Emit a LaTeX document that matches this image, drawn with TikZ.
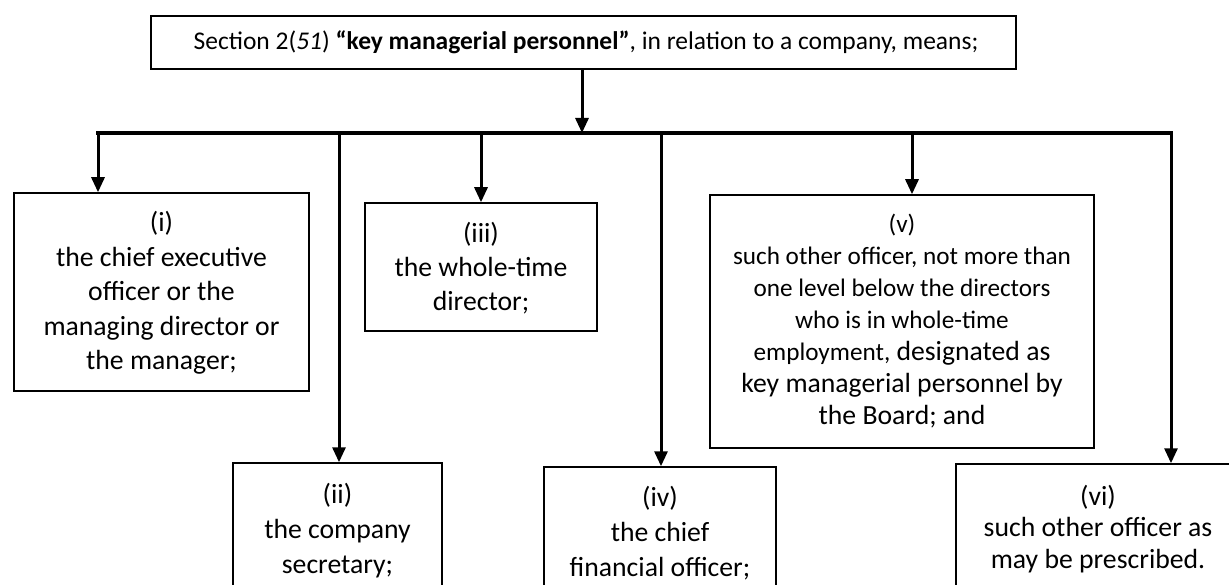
\documentclass[tikz,border=0pt]{standalone}
\usepackage{fontspec}
\setmainfont{Carlito}
\usetikzlibrary{arrows.meta}
\begin{document}
\begin{tikzpicture}[x=1pt,y=-1pt,
  box/.style={draw, line width=1.5pt, inner sep=0pt},
  txt/.style={align=center, font=\fontsize{27.7}{34.5}\selectfont, inner sep=0pt},
  con/.style={line width=3.5pt, line cap=rect},
  arr/.style={line width=3pt, -{Triangle[width=13pt,length=15pt]}}]
\useasboundingbox (0,0) rectangle (1229,585);
\clip (0,0) rectangle (1229,585);
\fill[white] (0,0) rectangle (1229,585);
% boxes
\node[box, minimum width=865pt, minimum height=53pt] (top) at (583.5,42.5) {};
\node[box, minimum width=295pt, minimum height=198pt] (b1) at (161.5,292) {};
\node[box, minimum width=209pt, minimum height=160pt] (b2) at (337.5,543) {};
\node[box, minimum width=232pt, minimum height=128pt] (b3) at (481,267) {};
\node[box, minimum width=232pt, minimum height=156pt] (b4) at (660,545) {};
\node[box, minimum width=384pt, minimum height=253pt] (b5) at (902,321.5) {};
\node[box, minimum width=284pt, minimum height=158pt] (b6) at (1098,543) {};
% texts
\node[txt, font=\fontsize{25.5}{28}\selectfont] (ttop) at (586,42) {Section 2(\textit{51}) \textbf{“key managerial personnel”}, in relation to a company, means;};
\node[txt] (t1) at (161.5,293) {(i)\\the chief executive\\officer or the\\managing director or\\the manager;};
\node[txt, font=\fontsize{27.7}{35}\selectfont] (t2) at (337.5,531) {(ii)\\the company\\secretary;};
\node[txt, font=\fontsize{27.7}{34}\selectfont] (t3) at (481,268) {(iii)\\the whole-time\\director;};
\node[txt, font=\fontsize{27.7}{35}\selectfont] (t4) at (660,533) {(iv)\\the chief\\financial officer;};
\node[txt, font=\fontsize{27.7}{32}\selectfont] (t5) at (902,321) {{\fontsize{25.2}{30}\selectfont (v)}\\{\fontsize{25.2}{30}\selectfont such other officer, not more than}\\{\fontsize{25.2}{30}\selectfont one level below the directors}\\{\fontsize{25.2}{30}\selectfont who is in whole-time}\\{\fontsize{25.2}{30}\selectfont employment,} designated as\\key managerial personnel by\\the Board; and};
\node[txt, font=\fontsize{27.7}{31.5}\selectfont] (t6) at (1098,529) {(vi)\\such other officer as\\may be prescribed.};
% connectors
\coordinate (j) at (582,133);
\coordinate (a1) at (98,133);
\coordinate (a2) at (339,133);
\coordinate (a3) at (481,133);
\coordinate (a4) at (661,133);
\coordinate (a5) at (912,133);
\coordinate (a6) at (1171,133);
\draw[arr] (top.south -| j) -- (j);
\draw[con] (a1) -- (a6);
\draw[arr] (a1) -- (a1 |- b1.north);
\draw[arr] (a2) -- (a2 |- b2.north);
\draw[arr] (a3) -- (a3 |- b3.north);
\draw[arr] (a4) -- (a4 |- b4.north);
\draw[arr] (a5) -- (a5 |- b5.north);
\draw[arr] (a6) -- (a6 |- b6.north);
\end{tikzpicture}
\end{document}
